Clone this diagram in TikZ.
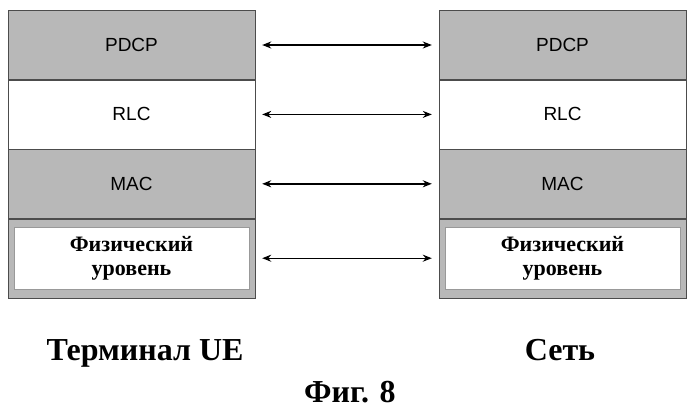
\documentclass[tikz,border=0pt]{standalone}
\usepackage{fontspec}
\setmainfont{Liberation Serif}
\setsansfont{Liberation Sans}
\usetikzlibrary{positioning,arrows.meta}
\tikzset{
  layer/.style={draw=black!70, minimum width=247pt, minimum height=69pt, inner sep=0pt, font=\sffamily\fontsize{19}{21}\selectfont},
  grey/.style={layer, fill=black!28},
  white/.style={layer, fill=white},
  phys/.style={layer, fill=black!28, minimum height=79pt},
  physin/.style={draw=black!40, fill=white, minimum width=235pt, minimum height=62pt, inner sep=0pt, align=center, font=\bfseries\fontsize{22}{24}\selectfont},
  link/.style={{Stealth[length=9pt,width=7pt]}-{Stealth[length=9pt,width=7pt]}, line width=1.4pt},
  caption/.style={anchor=base, font=\bfseries\fontsize{32}{34}\selectfont}
}
\begin{document}
\begin{tikzpicture}[x=1pt,y=-1pt]
\useasboundingbox (0,0) rectangle (698,408);
\node[grey] (pdcpA) at (131.5,45) {PDCP};
\node[white, below=0pt of pdcpA] (rlcA) {RLC};
\node[grey, below=0pt of rlcA] (macA) {MAC};
\node[phys, below=0pt of macA] (phyA) {};
\node[physin] at (phyA) {Физический\\уровень};

\node[grey] (pdcpB) at (562.5,45) {PDCP};
\node[white, below=0pt of pdcpB] (rlcB) {RLC};
\node[grey, below=0pt of rlcB] (macB) {MAC};
\node[phys, below=0pt of macB] (phyB) {};
\node[physin] at (phyB) {Физический\\уровень};

\draw[link] ([xshift=7pt]pdcpA.east) -- ([xshift=-7pt]pdcpB.west);
\draw[link] ([xshift=7pt]rlcA.east) -- ([xshift=-7pt]rlcB.west);
\draw[link] ([xshift=7pt]macA.east) -- ([xshift=-7pt]macB.west);
\draw[link] ([xshift=7pt]phyA.east) -- ([xshift=-7pt]phyB.west);

\node[caption] (ue) at (145,360) {Терминал UE};
\node[caption] (net) at (560,360) {Сеть};
\node[caption] (fig) at (350,402) {Фиг. 8};
\end{tikzpicture}
\end{document}
